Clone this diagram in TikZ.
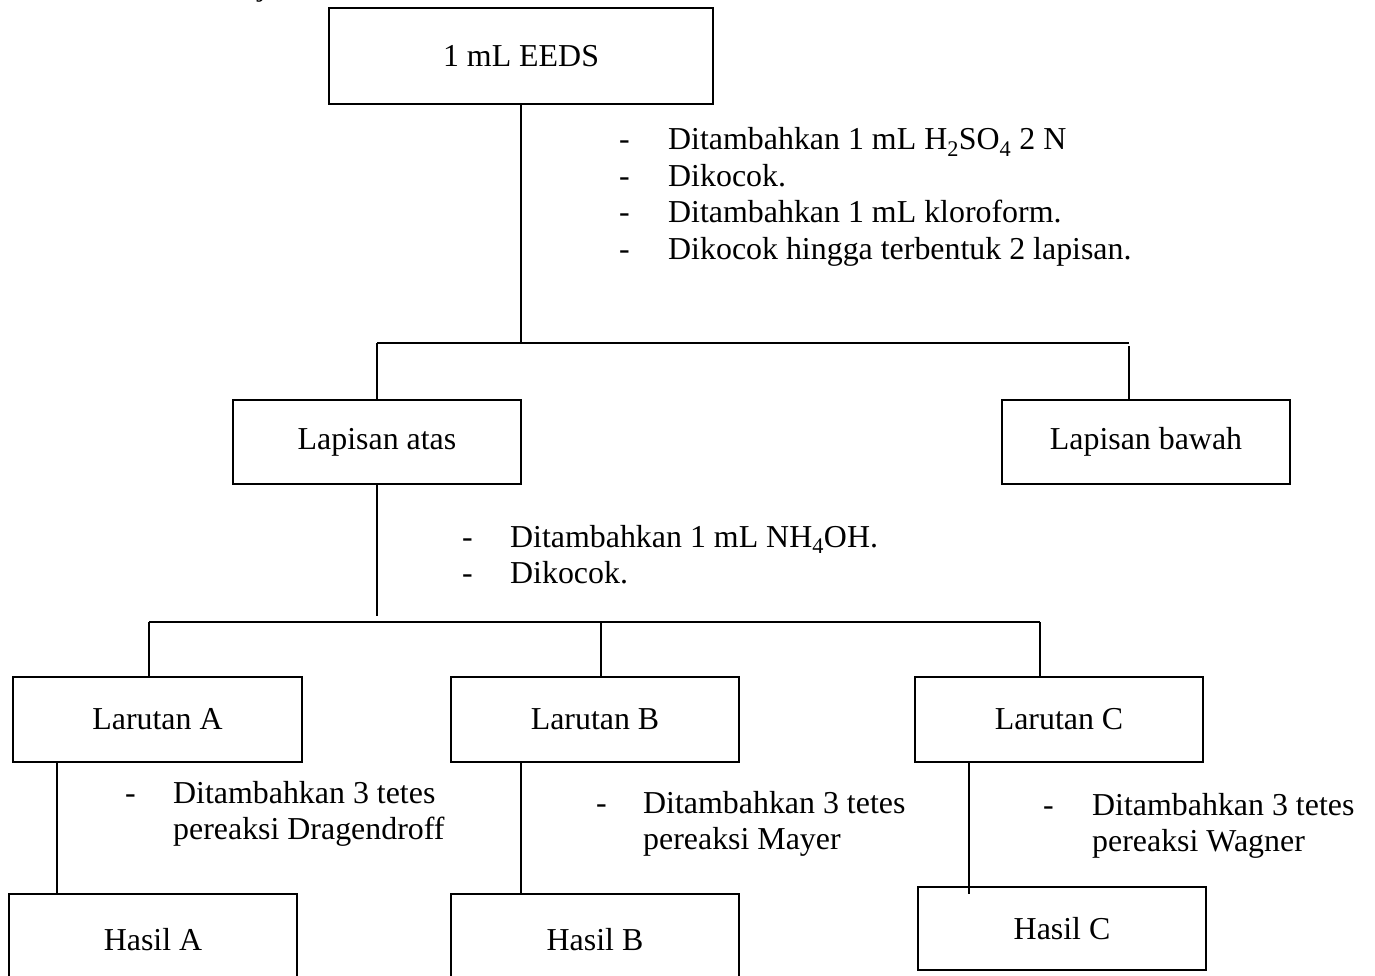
\documentclass[tikz,border=0pt]{standalone}
\usepackage{fontspec}
\setmainfont{Liberation Serif}
\begin{document}
\begin{tikzpicture}[x=1pt,y=-1pt,
  txt/.style={font=\fontsize{31.9}{36.5}\selectfont},
  box/.style={txt, draw, line width=1.8pt, inner sep=0pt},
  conn/.style={line width=1.8pt},
  notes/.style={txt, anchor=base west, inner sep=0pt}]
\useasboundingbox (0,0) rectangle (1375,976);
\clip (0,0) rectangle (1375,976);

% tail of the line of text above the chart
\node[txt, anchor=base, inner sep=0pt] (frag) at (262,-4) {j};

% boxes
\node[box, minimum width=384pt, minimum height=96pt] (top) at (521,56) {1 mL EEDS};
\node[box, minimum width=288pt, minimum height=84pt] (latas) at (377,442) {Lapisan atas};
\node[box, minimum width=288pt, minimum height=84pt] (lbawah) at (1146,442) {Lapisan bawah};
\node[box, minimum width=289pt, minimum height=85pt] (lA) at (157.5,719.5) {Larutan A};
\node[box, minimum width=288pt, minimum height=85pt] (lB) at (595,719.5) {Larutan B};
\node[box, minimum width=288pt, minimum height=85pt] (lC) at (1059,719.5) {Larutan C};
\node[box, minimum width=288pt, minimum height=92pt] (hA) at (153,940) {Hasil A};
\node[box, minimum width=288pt, minimum height=92pt] (hB) at (595,940) {Hasil B};
\node[box, minimum width=288pt, minimum height=83pt] (hC) at (1062,928.5) {Hasil C};

% junction points
\coordinate (s1) at (521,343);
\coordinate (s1l) at (377,343);
\coordinate (s1r) at (1129,343);
\coordinate (s1rt) at (1129,346);
\coordinate (s2) at (377,616);
\coordinate (s2l) at (149,622);
\coordinate (s2m) at (601,622);
\coordinate (s2r) at (1040,622);
\coordinate (a1) at (57,762);
\coordinate (b1) at (521,762);
\coordinate (c1) at (969,762);
\coordinate (c2) at (969,894);

% connectors
\draw[conn] (top.south) -- (s1);
\draw[conn] (s1l) -- (s1r);
\draw[conn] (s1l) -- (latas.north);
\draw[conn] (s1rt) -- (s1rt |- lbawah.north);
\draw[conn] (latas.south) -- (s2);
\draw[conn] (s2l) -- (s2r);
\draw[conn] (s2l) -- (s2l |- lA.north);
\draw[conn] (s2m) -- (s2m |- lB.north);
\draw[conn] (s2r) -- (s2r |- lC.north);
\draw[conn] (a1) -- (a1 |- hA.north);
\draw[conn] (b1) -- (b1 |- hB.north);
\draw[conn] (c1) -- (c2);

% procedure notes
\node[notes] (n1) at (619,150) {\begin{tabular}[t]{@{}p{49pt}@{}l@{}}
-&Ditambahkan 1 mL H\textsubscript{2}SO\textsubscript{4} 2 N\\
-&Dikocok.\\
-&Ditambahkan 1 mL kloroform.\\
-&Dikocok hingga terbentuk 2 lapisan.
\end{tabular}};
\node[notes] (n2) at (462,547) {\begin{tabular}[t]{@{}p{48pt}@{}l@{}}
-&Ditambahkan 1 mL NH\textsubscript{4}OH.\\
-&Dikocok.
\end{tabular}};
\node[notes] (n3) at (125,803) {\begin{tabular}[t]{@{}p{48pt}@{}l@{}}
-&Ditambahkan 3 tetes\\
&pereaksi Dragendroff
\end{tabular}};
\node[notes] (n4) at (596,813) {\begin{tabular}[t]{@{}p{47pt}@{}l@{}}
-&Ditambahkan 3 tetes\\
&pereaksi Mayer
\end{tabular}};
\node[notes] (n5) at (1043,815) {\begin{tabular}[t]{@{}p{49pt}@{}l@{}}
-&Ditambahkan 3 tetes\\
&pereaksi Wagner
\end{tabular}};
\end{tikzpicture}
\end{document}
